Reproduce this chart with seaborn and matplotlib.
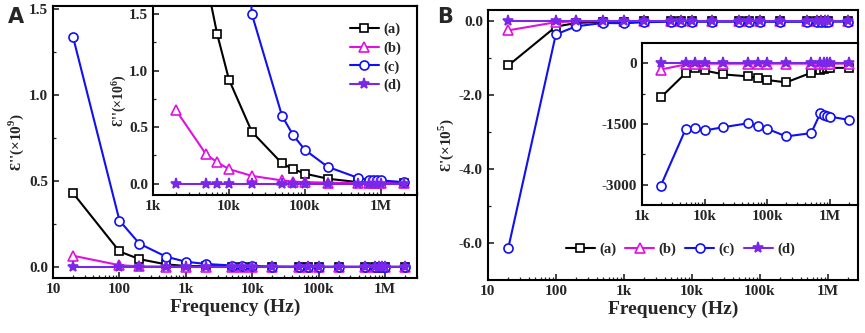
import numpy as np
import matplotlib
matplotlib.use("Agg")
import matplotlib.pyplot as plt
import seaborn as sns
from matplotlib.ticker import FixedLocator, LogLocator, NullFormatter

sns.set_theme(style="ticks")
plt.rcParams['font.family'] = ['Liberation Serif', 'DejaVu Serif']
plt.rcParams['font.weight'] = 'bold'
plt.rcParams['mathtext.fontset'] = 'custom'
plt.rcParams['mathtext.rm'] = 'Liberation Serif:bold'
plt.rcParams['mathtext.bf'] = 'Liberation Serif:bold'

# ---- data ----
freq = [20, 100, 200, 500, 1e3, 2e3, 5e3, 7e3, 1e4, 2e4, 5e4, 7e4, 1e5, 2e5, 5e5, 7e5, 8e5, 9e5, 1e6, 2e6]
freq_in = [2e3, 5e3, 7e3, 1e4, 2e4, 5e4, 7e4, 1e5, 2e5, 5e5, 7e5, 8e5, 9e5, 1e6, 2e6]
labels = ["(a)", "(b)", "(c)", "(d)"]

# Panel A: eps'' (x10^9) main
A_a = [0.43, 0.09, 0.045, 0.015, 0.005, 0.0045, 0.0018, 0.0013, 0.0009, 0.00046, 0.00018, 0.00013, 0.00009, 0.000045, 0.000015, 0.00001, 0.00001, 0.000008, 0.000005, 0.000003]
A_b = [0.065, 0.01, 0.003, 0.002, 0.001, 0.00065, 0.00026, 0.00019, 0.00013, 0.00007, 0.00003, 0.00002, 0.000015, 0.00001, 0.000005, 0.000005, 0.000005, 0.000005, 0.000005, 0.000005]
A_c = [1.34, 0.27, 0.135, 0.06, 0.03, 0.017, 0.008, 0.006, 0.005, 0.0015, 0.0006, 0.00043, 0.0003, 0.00015, 0.000053, 0.000035, 0.00003, 0.00003, 0.00003, 0.000015]
A_d = [0.0] * 20
# Panel A inset: eps'' (x10^6)
Ai_a = [4.5, 1.8, 1.32, 0.92, 0.46, 0.18, 0.13, 0.09, 0.045, 0.015, 0.01, 0.01, 0.008, 0.005, 0.003]
Ai_b = [0.65, 0.26, 0.19, 0.13, 0.07, 0.03, 0.02, 0.015, 0.01, 0.005, 0.005, 0.005, 0.005, 0.005, 0.005]
Ai_c = [17, 8, 6, 5, 1.5, 0.6, 0.43, 0.30, 0.15, 0.053, 0.035, 0.03, 0.03, 0.03, 0.015]
Ai_d = [0.0] * 15

# Panel B: eps' (x10^5) main
B_a = [-1.2, -0.15, -0.05, -0.02, -0.012, -0.0085, -0.0024, -0.0011, -0.0018, -0.0028, -0.0033, -0.0037, -0.0042, -0.0047, -0.0024, -0.0016, -0.0015, -0.0013, -0.0011, -0.0011]
B_b = [-0.25, -0.03, -0.005, -0.003, -0.002, -0.0016, -0.0003, -0.0001, -0.0001, -0.0001, -0.0001, -0.0001, -0.0001, -0.0001, -0.0001, -0.0001, -0.0001, -0.0001, -0.0001, -0.0001]
B_c = [-6.13, -0.36, -0.14, -0.05, -0.06, -0.03, -0.016, -0.016, -0.017, -0.016, -0.015, -0.015, -0.016, -0.018, -0.017, -0.012, -0.013, -0.013, -0.013, -0.014]
B_d = [0.0] * 20
# Panel B inset: eps' (raw)
Bi_a = [-845, -244, -114, -179, -276, -325, -366, -415, -472, -236, -163, -146, -130, -114, -114]
Bi_b = [-155, -30, -10, -10, -10, -10, -10, -10, -10, -10, -10, -10, -10, -10, -10]
Bi_c = [-3024, -1626, -1602, -1659, -1577, -1480, -1545, -1618, -1805, -1724, -1236, -1276, -1293, -1317, -1398]
Bi_d = [0.0] * 15

colors = ["#000000", "#E010E0", "#1010F0", "#7A28E8"]
markers = ["s", "^", "o", "*"]
msizes = [5.5, 6.5, 6.5, 8]

def draw(ax, x, ys, lw=1.5):
    for y, c, m, ms, lab in zip(ys, colors, markers, msizes, labels):
        sns.lineplot(x=x, y=y, ax=ax, color=c, marker=m, markersize=ms, markerfacecolor="white" if m != "*" else c,
                     markeredgecolor=c, markeredgewidth=1.2, linewidth=lw, label=lab, sort=False,
                     estimator=None, legend=False, zorder=3)

def style_log_x(ax, ticks, ticklabels, fs=11):
    ax.set_xscale("log")
    ax.xaxis.set_major_locator(FixedLocator(ticks))
    ax.set_xticklabels(ticklabels)
    ax.xaxis.set_minor_locator(LogLocator(base=10, subs=np.arange(2, 10)))
    ax.xaxis.set_minor_formatter(NullFormatter())
    ax.tick_params(axis="both", which="major", direction="in", length=4, width=1.2, labelsize=fs, top=False, right=False)
    ax.tick_params(axis="both", which="minor", direction="in", length=2, width=0.9, top=False, right=False)
    for lab in ax.get_xticklabels() + ax.get_yticklabels():
        lab.set_fontweight("bold")
    for sp in ax.spines.values():
        sp.set_linewidth(1.5)
        sp.set_color("black")

fig = plt.figure(figsize=(8.65, 3.33), dpi=100)

# ---- Panel A ----
axA = fig.add_axes([0.0613, 0.165, 0.4207, 0.817])
draw(axA, freq, [A_a, A_b, A_c, A_d])
axA.set_xlim(10, 3e6)
axA.set_ylim(-0.065, 1.52)
style_log_x(axA, [10, 100, 1e3, 1e4, 1e5, 1e6], ["10", "100", "1k", "10k", "100k", "1M"])
axA.set_yticks([0.0, 0.5, 1.0, 1.5])
axA.set_yticklabels(["0.0", "0.5", "1.0", "1.5"], fontweight="bold")
axA.yaxis.set_minor_locator(FixedLocator([0.25, 0.75, 1.25]))
axA.set_xlabel("Frequency (Hz)", fontsize=14, fontweight="bold", labelpad=2)
axA.set_ylabel("Ɛ''(×10$^{9}$)", fontsize=11, fontweight="bold", labelpad=2)

axAi = fig.add_axes([0.177, 0.414, 0.305, 0.568])
draw(axAi, freq_in, [Ai_a, Ai_b, Ai_c, Ai_d])
axAi.set_xlim(1e3, 3e6)
axAi.set_ylim(-0.1, 1.57)
style_log_x(axAi, [1e3, 1e4, 1e5, 1e6], ["1k", "10k", "100k", "1M"])
axAi.set_yticks([0.0, 0.5, 1.0, 1.5])
axAi.set_yticklabels(["0.0", "0.5", "1.0", "1.5"], fontweight="bold")
axAi.yaxis.set_minor_locator(FixedLocator([0.25, 0.75, 1.25]))
axAi.set_ylabel("Ɛ''(×10$^{6}$)", fontsize=10, fontweight="bold", labelpad=1)
axAi.set_xlabel("")
legA = axAi.legend(loc="upper right", bbox_to_anchor=(0.99, 0.98), frameon=False,
                   handlelength=2.0, handletextpad=0.3, labelspacing=0.35, prop={"weight": "bold", "size": 10.5})

# ---- Panel B ----
axB = fig.add_axes([0.564, 0.159, 0.428, 0.811])
draw(axB, freq, [B_a, B_b, B_c, B_d])
axB.set_xlim(10, 2.8e6)
axB.set_ylim(-7.0, 0.3)
style_log_x(axB, [10, 100, 1e3, 1e4, 1e5, 1e6], ["10", "100", "1k", "10k", "100k", "1M"])
axB.set_yticks([0.0, -2.0, -4.0, -6.0])
axB.set_yticklabels(["0.0", "-2.0", "-4.0", "-6.0"], fontweight="bold")
axB.yaxis.set_minor_locator(FixedLocator([-1.0, -3.0, -5.0]))
axB.set_xlabel("Frequency (Hz)", fontsize=14, fontweight="bold", labelpad=2)
axB.set_ylabel("Ɛ'(×10$^{5}$)", fontsize=11, fontweight="bold", labelpad=2)
legB = axB.legend(loc="lower center", bbox_to_anchor=(0.52, 0.04), ncol=4, frameon=False,
                  handlelength=2.0, handletextpad=0.3, columnspacing=0.6, prop={"weight": "bold", "size": 10.5})

axBi = fig.add_axes([0.742, 0.384, 0.250, 0.487])
draw(axBi, freq_in, [Bi_a, Bi_b, Bi_c, Bi_d])
axBi.set_xlim(1e3, 2.8e6)
axBi.set_ylim(-3500, 500)
style_log_x(axBi, [1e3, 1e4, 1e5, 1e6], ["1k", "10k", "100k", "1M"])
axBi.set_yticks([0, -1500, -3000])
axBi.set_yticklabels(["0", "-1500", "-3000"], fontweight="bold")
axBi.yaxis.set_minor_locator(FixedLocator([-750, -2250]))
axBi.set_xlabel("")
axBi.set_ylabel("")

fig.text(0.009, 0.93, "A", fontsize=15, fontweight="bold", family="DejaVu Sans")
fig.text(0.505, 0.93, "B", fontsize=15, fontweight="bold", family="DejaVu Sans")

fig.savefig("out.png", dpi=100)
